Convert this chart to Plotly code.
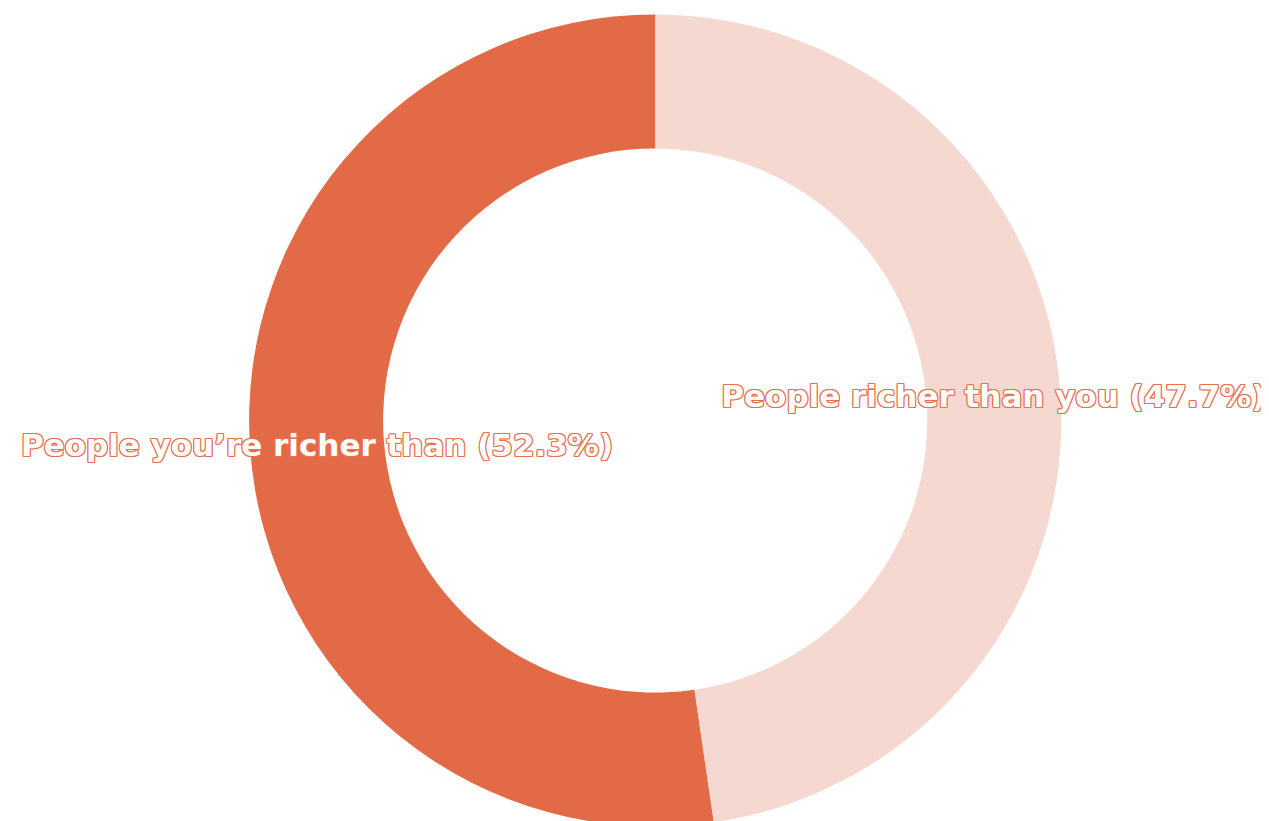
import plotly.graph_objects as go

labels = ["People richer than you", "People you’re richer than"]
values = [47.7, 52.3]
colors = ["#F5D9D1", "#E36A46"]

outline = "#E8704E"
shadow = ", ".join(f"{dx}px {dy}px 0 {outline}" for dx, dy in
                   [(1, 0), (-1, 0), (0, 1), (0, -1), (1, 1), (-1, -1), (1, -1), (-1, 1)])

fig = go.Figure(go.Pie(
    labels=labels,
    values=values,
    sort=False,
    direction="clockwise",
    rotation=0,
    hole=0.67,
    marker=dict(colors=colors, line=dict(width=0)),
    texttemplate="%{label} (%{percent:.1%})",
    textposition="inside",
    insidetextorientation="horizontal",
    textfont=dict(family="DejaVu Sans", size=31, color="white", weight="bold", shadow=shadow),
    showlegend=False,
    domain=dict(x=[0.19, 0.83], y=[0, 1]),
))

fig.update_layout(
    width=1269, height=821,
    margin=dict(l=0, r=0, t=4, b=0),
    paper_bgcolor="white",
    plot_bgcolor="white",
    uniformtext=dict(minsize=31, mode="show"),
)

fig.write_html("out.html")
